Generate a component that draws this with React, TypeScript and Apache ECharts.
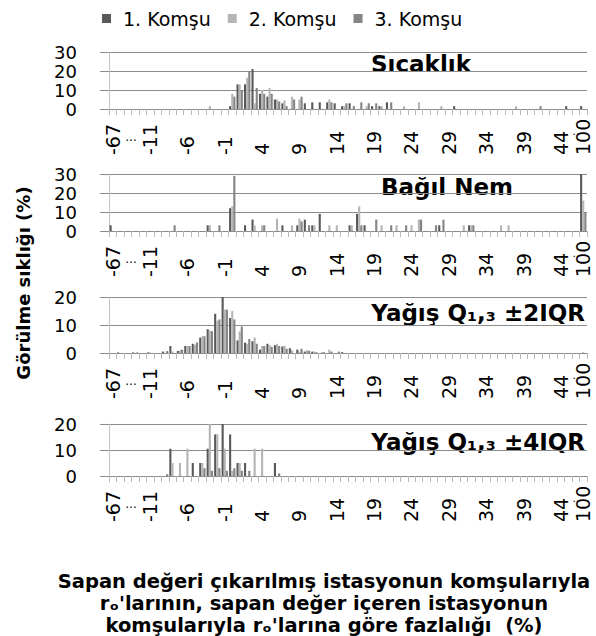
import React, { useEffect, useRef } from 'react';
import * as echarts from 'echarts';

const FONT = '"DejaVu Sans", sans-serif';

const categories = [
  '-67', '-15', '-14', '-13', '-12',
  '-11', '-10', '-9', '-8', '-7', '-6', '-5', '-4', '-3', '-2', '-1',
  '0', '1', '2', '3', '4', '5', '6', '7', '8', '9',
  '10', '11', '12', '13', '14', '15', '16', '17', '18', '19',
  '20', '21', '22', '23', '24', '25', '26', '27', '28', '29',
  '30', '31', '32', '33', '34', '35', '36', '37', '38', '39',
  '40', '41', '42', '43', '44', '45', '46', '100',
];

const tickLabels = ['-67', '-11', '-6', '-1', '4', '9', '14', '19', '24', '29', '34', '39', '44', '100'];

const seriesNames = ['1. Komşu', '2. Komşu', '3. Komşu'];
const seriesColors = ['#595959', '#b5b5b5', '#858585'];

const panelTitles = ['Sıcaklık', 'Bağıl Nem', 'Yağış Q₁,₃ ±2IQR', 'Yağış Q₁,₃ ±4IQR'];
const panelMax = [30, 30, 20, 20];

const xTitleLines = [
  'Sapan değeri çıkarılmış istasyonun komşularıyla',
  'rₒ\'larının, sapan değer içeren istasyonun',
  'komşularıyla rₒ\'larına göre fazlalığı  (%)',
];

// Sıcaklık
const sicaklik1 = [
  0, 0, 0, 0, 0, 0, 0, 0,
  0, 0, 0, 0, 0, 0, 0, 0,
  1.5, 13, 13, 21, 8, 6.5, 5, 3,
  0, 0, 3, 3.5, 3.5, 3.5, 3, 1.5,
  3, 0, 0, 1.5, 1.5, 3.5, 0, 0,
  0, 0, 0, 0, 0, 0, 1.5, 0,
  0, 0, 0, 0, 0, 0, 0, 0,
  0, 0, 0, 0, 0, 1.5, 0, 1.5,
];
const sicaklik2 = [
  0, 0, 0, 0, 0, 0, 0, 0,
  0, 0, 0, 0, 0, 1.5, 0, 0,
  8, 13, 16.5, 3, 10, 11, 5, 4.5,
  6.5, 5, 0, 0, 0, 5, 0, 1.5,
  0, 0, 1.5, 0, 1.5, 0, 0, 1.5,
  0, 3.5, 0, 0, 1.5, 0, 0, 0,
  0, 0, 0, 0, 0, 0, 1.5, 0,
  0, 0, 0, 0, 0, 0, 0, 0,
];
const sicaklik3 = [
  0, 0, 0, 0, 0, 0, 0, 0,
  0, 0, 0, 0, 0, 0, 0, 0,
  6.5, 10, 20, 11, 8, 8, 4, 1.5,
  5, 6.5, 0, 0, 0, 3.5, 0, 3,
  1.5, 3.5, 3, 3, 0, 3.5, 0, 0,
  0, 0, 0, 0, 0, 0, 0, 0,
  0, 0, 0, 0, 0, 0, 0, 0,
  0, 1.5, 0, 0, 0, 0, 0, 0,
];

// Bağıl Nem
const nem1 = [
  3, 0, 0, 0, 0, 0, 0, 0,
  0, 0, 0, 0, 0, 3, 0, 0,
  12, 0, 3, 6, 0, 0, 0, 3,
  0, 3, 6, 3, 9, 0, 0, 0,
  3, 9, 3, 0, 0, 0, 0, 0,
  0, 0, 0, 0, 3, 0, 0, 0,
  3, 0, 0, 0, 0, 0, 0, 0,
  0, 0, 0, 0, 0, 0, 0, 30,
];
const nem2 = [
  0, 0, 0, 0, 0, 0, 0, 0,
  0, 0, 0, 0, 0, 3, 0, 0,
  13, 0, 0, 3, 3, 0, 6.5, 0,
  3, 6.5, 0, 3, 0, 3, 3, 0,
  3, 13, 0, 0, 3, 0, 3, 0,
  3, 6, 0, 0, 0, 0, 0, 3,
  3, 0, 0, 0, 3, 3, 0, 0,
  0, 0, 0, 0, 0, 0, 0, 16,
];
const nem3 = [
  0, 0, 0, 0, 0, 0, 0, 0,
  3, 0, 0, 0, 0, 0, 3, 0,
  29, 0, 0, 0, 3, 0, 0, 0,
  0, 5, 3, 0, 0, 0, 0, 0,
  0, 3, 0, 6, 0, 3, 0, 3,
  0, 6, 0, 3, 6, 0, 0, 0,
  3, 0, 0, 0, 0, 0, 0, 0,
  0, 0, 0, 0, 0, 0, 0, 10,
];

// Yağış ±2IQR
const yagis2a = [
  0, 0.2, 0, 0.2, 0, 0.2, 0, 0.5,
  2.5, 0.7, 2.5, 3.3, 5.5, 8.5, 14, 20.5,
  12.5, 4.5, 3.7, 4.2, 1.2, 3.3, 2.8, 2.3,
  1.7, 1.2, 0.5, 0.5, 0, 0, 0, 0.3,
  0, 0, 0, 0, 0, 0, 0, 0,
  0, 0, 0, 0, 0, 0, 0, 0,
  0, 0, 0, 0, 0, 0, 0, 0,
  0, 0, 0, 0, 0, 0, 0, 0,
];
const yagis2b = [
  0, 0, 0, 0, 0, 0.2, 0, 0,
  0.5, 1, 2.5, 3, 6, 8, 11.5, 15.5,
  15, 7.7, 3.3, 5.5, 2.5, 2.8, 3.3, 2.6,
  1, 0.5, 1, 0.5, 0.3, 1.2, 0, 0,
  0, 0, 0, 0, 0, 0, 0, 0,
  0, 0, 0, 0, 0, 0, 0, 0,
  0, 0, 0, 0, 0, 0, 0, 0,
  0, 0, 0, 0, 0, 0, 0, 0.3,
];
const yagis2c = [
  0, 0, 0, 0.2, 0, 0, 0, 0.7,
  0, 1.2, 2.5, 3.8, 6, 7.8, 12, 15.5,
  12, 9.5, 5, 3.3, 2.5, 2.2, 2.5, 1.5,
  0, 1.5, 0.8, 0.3, 0.3, 0.5, 0.5, 0,
  0, 0, 0, 0, 0, 0, 0, 0,
  0, 0, 0, 0, 0, 0, 0, 0,
  0, 0, 0, 0, 0, 0, 0, 0,
  0, 0, 0, 0, 0, 0, 0, 0,
];

// Yağış ±4IQR
const yagis4a = [
  0, 0, 0, 0, 0, 0, 0, 0,
  10.5, 0, 0, 5, 5, 10.5, 16, 21,
  16, 5, 5, 0, 0, 0, 5, 0,
  0, 0, 0, 0, 0, 0, 0, 0,
  0, 0, 0, 0, 0, 0, 0, 0,
  0, 0, 0, 0, 0, 0, 0, 0,
  0, 0, 0, 0, 0, 0, 0, 0,
  0, 0, 0, 0, 0, 0, 0, 0,
];
const yagis4b = [
  0, 0, 0, 0, 0, 0, 0, 0,
  5, 5, 10.5, 0, 5, 21, 16, 10.5,
  2, 5, 0, 10.5, 10.5, 0, 0, 0,
  0, 0, 0, 0, 0, 0, 0, 0,
  0, 0, 0, 0, 0, 0, 0, 0,
  0, 0, 0, 0, 0, 0, 0, 0,
  0, 0, 0, 0, 0, 0, 0, 0,
  0, 0, 0, 0, 0, 0, 0, 0,
];
const yagis4c = [
  0, 0, 0, 0, 0, 0, 0, 0.7,
  0, 0, 0, 0, 3, 2, 3, 2,
  3, 2, 2, 0, 0, 0, 1, 0,
  0, 0, 0, 0, 0, 0, 0, 0,
  0, 0, 0, 0, 0, 0, 0, 0,
  0, 0, 0, 0, 0, 0, 0, 0,
  0, 0, 0, 0, 0, 0, 0, 0,
  0, 0, 0, 0, 0, 0, 0, 0,
];

const panelData = [
  [sicaklik1, sicaklik2, sicaklik3],
  [nem1, nem2, nem3],
  [yagis2a, yagis2b, yagis2c],
  [yagis4a, yagis4b, yagis4c],
];

const gridBoxes = [
  { top: 52, height: 57 },
  { top: 174, height: 57 },
  { top: 297, height: 56 },
  { top: 424, height: 52 },
];

const titlePos = [
  { x: 421, y: 64, align: 'center' },
  { x: 447, y: 187, align: 'center' },
  { x: 585, y: 313, align: 'right' },
  { x: 585, y: 442, align: 'right' },
];

const xTitleY = [581, 603.5, 625];

export default function App() {
  const ref = useRef<HTMLDivElement>(null);

  useEffect(() => {
    if (!ref.current) return;
    const chart = echarts.init(ref.current, undefined, { renderer: 'svg' });

    const grid = gridBoxes.map((g) => ({ left: 109, right: 9, top: g.top, height: g.height }));

    const xAxis = gridBoxes.map((_, i) => ({
      type: 'category',
      gridIndex: i,
      data: categories,
      boundaryGap: true,
      axisLine: { show: true, lineStyle: { color: '#8c8c8c', width: 1 } },
      axisTick: { show: true, interval: 0, length: 6, lineStyle: { color: '#b8b8b8' } },
      axisLabel: {
        interval: (_idx: number, val: string) => tickLabels.includes(val),
        rotate: 90,
        align: 'left',
        verticalAlign: 'middle',
        padding: [8, 0, 0, 0],
        margin: 46,
        fontSize: 19,
        fontFamily: FONT,
        color: '#000',
      },
      splitLine: { show: false },
    }));

    const yAxis = gridBoxes.map((_, i) => ({
      type: 'value',
      gridIndex: i,
      min: 0,
      max: panelMax[i],
      interval: 10,
      axisLine: { show: true, lineStyle: { color: '#c4c4c4' } },
      axisTick: { show: true, length: 9, lineStyle: { color: '#8c8c8c' } },
      axisLabel: {
        fontSize: 18,
        lineHeight: 18,
        fontFamily: FONT,
        color: '#000',
        margin: 32,
        showMinLabel: true,
        showMaxLabel: true,
      },
      splitLine: { show: true, lineStyle: { color: '#8c8c8c', width: 1 } },
    }));

    const series: any[] = [];
    panelData.forEach((sets, p) => {
      sets.forEach((d, s) => {
        series.push({
          type: 'bar',
          name: seriesNames[s],
          xAxisIndex: p,
          yAxisIndex: p,
          data: d,
          itemStyle: { color: seriesColors[s] },
          barGap: '0%',
          barCategoryGap: '15%',
        });
      });
    });

    const graphic: any[] = [];
    panelTitles.forEach((t, i) => {
      graphic.push({
        type: 'text',
        x: titlePos[i].x,
        y: titlePos[i].y,
        style: {
          text: t,
          align: titlePos[i].align,
          verticalAlign: 'middle',
          fontSize: 23,
          fontWeight: 'bold',
          fontFamily: FONT,
          fill: '#000',
        },
      });
    });
    gridBoxes.forEach((g) => {
      const base = g.top + g.height;
      graphic.push({
        type: 'text',
        x: 131,
        y: base + 28,
        style: { text: '...', align: 'center', verticalAlign: 'middle', fontSize: 12, fontFamily: FONT, fill: '#000' },
      });
      graphic.push({
        type: 'text',
        x: 576,
        y: base + 22,
        style: { text: '..', align: 'center', verticalAlign: 'middle', fontSize: 11, fontFamily: FONT, fill: '#000' },
      });
    });
    graphic.push({
      type: 'text',
      x: 23,
      y: 283,
      rotation: Math.PI / 2,
      style: {
        text: 'Görülme sıklığı (%)',
        align: 'center',
        verticalAlign: 'middle',
        fontSize: 18,
        fontWeight: 'bold',
        fontFamily: FONT,
        fill: '#000',
      },
    });
    xTitleLines.forEach((line, i) => {
      graphic.push({
        type: 'text',
        x: 324,
        y: xTitleY[i],
        style: {
          text: line,
          align: 'center',
          verticalAlign: 'middle',
          lineHeight: 16,
          fontSize: 19.5,
          fontWeight: 'bold',
          fontFamily: FONT,
          fill: '#000',
        },
      });
    });

    chart.setOption({
      animation: false,
      backgroundColor: '#fff',
      legend: {
        data: seriesNames,
        top: 4,
        left: 97,
        icon: 'rect',
        itemWidth: 9,
        itemHeight: 9,
        itemGap: 17,
        textStyle: { fontFamily: FONT, fontSize: 19, color: '#000', padding: [0, 0, 0, 7] },
      },
      grid,
      xAxis,
      yAxis,
      series,
      graphic,
    });

    return () => chart.dispose();
  }, []);

  return (
    <div
      ref={ref}
      style={{ position: 'fixed', left: 0, top: 0, width: 596, height: 636, background: '#fff' }}
    />
  );
}
